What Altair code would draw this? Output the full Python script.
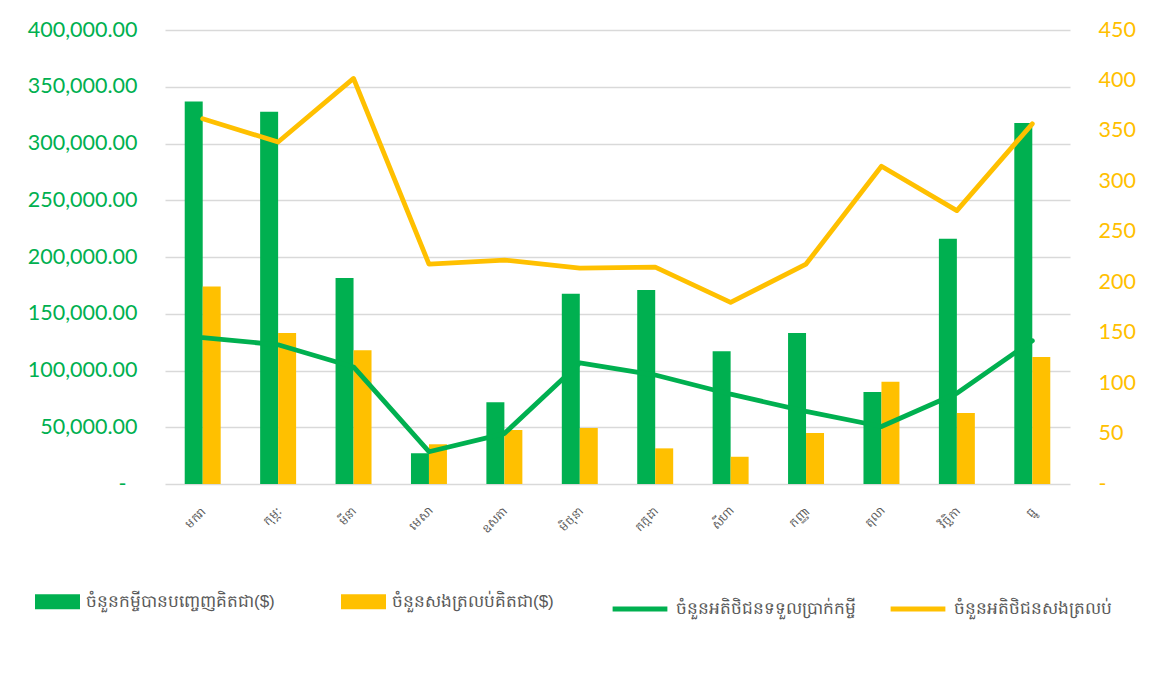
import altair as alt
import pandas as pd

months = ["មករា", "កុម្ភៈ", "មីនា", "មេសា", "ឧសភា", "មិថុនា",
          "កក្កដា", "សីហា", "កញ្ញា", "តុលា", "វិច្ឆិកា", "ធ្នូ"]

bar_names = ["ចំនួនកម្ចីបានបញ្ចេញគិតជា($)", "ចំនួនសងត្រលប់គិតជា($)"]
line_names = ["ចំនួនអតិថិជនទទួលប្រាក់កម្ចី", "ចំនួនអតិថិជនសងត្រលប់"]

loans_usd = [337000, 328000, 181500, 27000, 72000, 167700,
             171000, 117000, 133000, 81000, 216000, 318000]
repaid_usd = [174000, 133000, 117800, 35000, 47600, 49300,
              31400, 24000, 45000, 90000, 62600, 112000]
borrowers = [145, 138, 116, 32, 50, 120, 108, 89, 72, 57, 90, 142]
repayers = [362, 339, 402, 218, 222, 214, 215, 180, 218, 315, 271, 357]

left_ticks = [0, 50000, 100000, 150000, 200000, 250000, 300000, 350000, 400000]
right_ticks = [0, 50, 100, 150, 200, 250, 300, 350, 400, 450]

GREEN = "#00B050"
YELLOW = "#FFC000"
GRAY = "#595959"

bars_df = pd.DataFrame({
    "month": months * 2,
    "series": [bar_names[0]] * 12 + [bar_names[1]] * 12,
    "value": loans_usd + repaid_usd,
})
lines_df = pd.DataFrame({
    "month": months * 2,
    "series": [line_names[0]] * 12 + [line_names[1]] * 12,
    "value": borrowers + repayers,
})

x_enc = alt.X(
    "month:N", sort=months,
    scale=alt.Scale(paddingInner=0.523, paddingOuter=0.2615),
    axis=alt.Axis(title=None, labelAngle=-45, labelFontSize=12, labelColor=GRAY,
                  domain=False, ticks=False, labelPadding=21, labelOffset=-2,
                  grid=False),
)

bars = alt.Chart(bars_df).mark_bar().encode(
    x=x_enc,
    xOffset=alt.XOffset("series:N", sort=bar_names, scale=alt.Scale(paddingInner=0, paddingOuter=0)),
    y=alt.Y("value:Q", scale=alt.Scale(domain=[0, 400000], nice=False),
            axis=alt.Axis(title=None, orient="left", values=left_ticks,
                          labelExpr="datum.value == 0 ? '-' : format(datum.value, ',.2f')",
                          labelColor=GREEN, labelFontSize=21.5, labelFont="Lato",
                          labelPadding={"condition": {"test": "datum.value == 0", "value": 39}, "value": 28},
                          domain=False, ticks=False,
                          grid=True, gridColor="#D9D9D9", gridWidth=1.3)),
    color=alt.Color("series:N", sort=bar_names,
                    scale=alt.Scale(domain=bar_names, range=[GREEN, YELLOW]),
                    legend=alt.Legend(orient="none", legendX=-130, legendY=549,
                                      direction="horizontal", title=None,
                                      symbolType="M-1,-0.33L1,-0.33L1,0.33L-1,0.33Z",
                                      symbolSize=2025, symbolStrokeWidth=0,
                                      labelFontSize=17, labelColor=GRAY,
                                      labelLimit=500, columnPadding=66, labelOffset=6)),
)

lines = alt.Chart(lines_df).mark_line(strokeWidth=4.8, strokeJoin="round", strokeCap="round").encode(
    x=alt.X("month:N", sort=months),
    y=alt.Y("value:Q", scale=alt.Scale(domain=[0, 450], nice=False),
            axis=alt.Axis(title=None, orient="right", values=right_ticks,
                          labelExpr="datum.value == 0 ? '-' : format(datum.value, 'd')",
                          labelColor=YELLOW, labelFontSize=21.5, labelFont="Lato",
                          labelPadding=28, domain=False, ticks=False, grid=False)),
    stroke=alt.Stroke("series:N", sort=line_names,
                      scale=alt.Scale(domain=line_names, range=[GREEN, YELLOW]),
                      legend=alt.Legend(orient="none", legendX=445, legendY=549,
                                        direction="horizontal", title=None,
                                        symbolType="stroke", symbolSize=3000,
                                        symbolStrokeWidth=5,
                                        labelFontSize=17, labelColor=GRAY,
                                        labelLimit=500, columnPadding=24, labelOffset=6)),
)

chart = alt.layer(bars, lines).resolve_scale(
    y="independent"
).properties(
    width=905, height=454,
    autosize=alt.AutoSizeParams(type="none"),
    padding={"left": 157, "top": 22, "right": 74, "bottom": 180},
).configure_view(stroke=None)

chart.save("out.html", embed_options={"renderer": "svg", "actions": False})
